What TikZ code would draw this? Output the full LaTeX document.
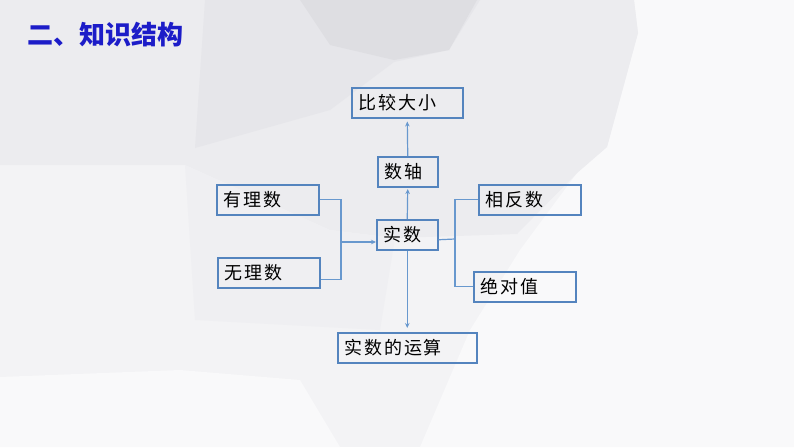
\documentclass[tikz,border=0pt]{standalone}
\usepackage{fontspec}
\newfontfamily\cjk{Noto Sans CJK SC}
\newfontfamily\cjkbox[LetterSpace=10]{Noto Sans CJK SC}
\usetikzlibrary{arrows.meta,calc}
\definecolor{boxblue}{RGB}{84,132,190}
\definecolor{linkblue}{RGB}{104,152,206}
\definecolor{titleblue}{RGB}{28,28,200}
\definecolor{bgbase}{RGB}{243,243,245}
\definecolor{bgmid}{RGB}{236,236,239}
\definecolor{bgdark}{RGB}{230,230,234}
\definecolor{bgdarkest}{RGB}{222,222,226}
\definecolor{bglight}{RGB}{249,249,250}
\begin{document}
\begin{tikzpicture}[x=1pt,y=-1pt,
  kbox/.style={draw=boxblue,line width=1.5pt,inner xsep=7pt,inner ysep=0pt,
    minimum height=30pt,anchor=north west,align=left,text width=#1,
    font=\cjkbox\fontsize{18}{20}\selectfont,text=black},
  link/.style={draw=linkblue,line width=1.2pt},
  tip/.style={-{Stealth[length=5pt,width=4.5pt]}}
]
% background
\fill[bgbase] (0,0) rectangle (794,447);
\fill[bglight] (634,0) -- (794,0) -- (794,447) -- (420,447) -- (470,330) -- (520,250) -- (577,173) -- (607,147) -- (638,33) -- cycle;
\fill[bglight] (0,377) -- (180,370) -- (300,380) -- (340,447) -- (0,447) -- cycle;
\fill[bgmid] (0,0) -- (634,0) -- (638,33) -- (607,147) -- (577,173) -- (517,234) -- (395,238) -- (330,230) -- (185,165) -- (0,165) -- cycle;
\fill[bgdark] (205,0) -- (480,0) -- (449,50) -- (394,62) -- (330,110) -- (195,148) -- cycle;
\fill[bgdarkest] (300,0) -- (477,0) -- (449,50) -- (394,60) -- (330,45) -- cycle;
\fill[bgmid!50!bgbase] (185,165) -- (330,230) -- (395,238) -- (380,330) -- (195,320) -- cycle;
% title
\node[anchor=west,inner sep=0pt,text=titleblue,font=\cjk\bfseries\fontsize{26}{28}\selectfont] (title) at (27,35) {二、知识结构};
% boxes
\node[kbox=97pt] (bj) at (351,87) {比较大小};
\node[kbox=46pt] (sz) at (377,156) {数轴};
\node[kbox=88pt] (yl) at (216,184) {有理数};
\node[kbox=88pt] (xf) at (478,184) {相反数};
\node[kbox=47pt] (ss) at (376,219) {实数};
\node[kbox=88pt] (wl) at (217,257) {无理数};
\node[kbox=88pt] (jd) at (473,271) {绝对值};
\node[kbox=125pt] (ys) at (337,332) {实数的运算};
% connectors
\coordinate (jl) at (341,242);
\coordinate (jr) at (455,239);
\draw[link] (yl.east) -| (jl);
\draw[link] ($(wl.east)+(0,7)$) -| (jl);
\draw[link,tip] (jl) -- (ss.west |- jl);
\draw[link] ($(ss.east)+(0,5)$) -- (jr);
\draw[link] (xf.west) -| (jr);
\draw[link] (jd.west) -| (jr);
\draw[link,tip,shorten >=1.5pt] (ss.north) -- (sz.south);
\draw[link,tip,shorten >=3pt] (sz.north) -- (bj.south);
\draw[link,tip,shorten >=4pt] (ss.south) -- (ys.north);
\end{tikzpicture}
\end{document}
